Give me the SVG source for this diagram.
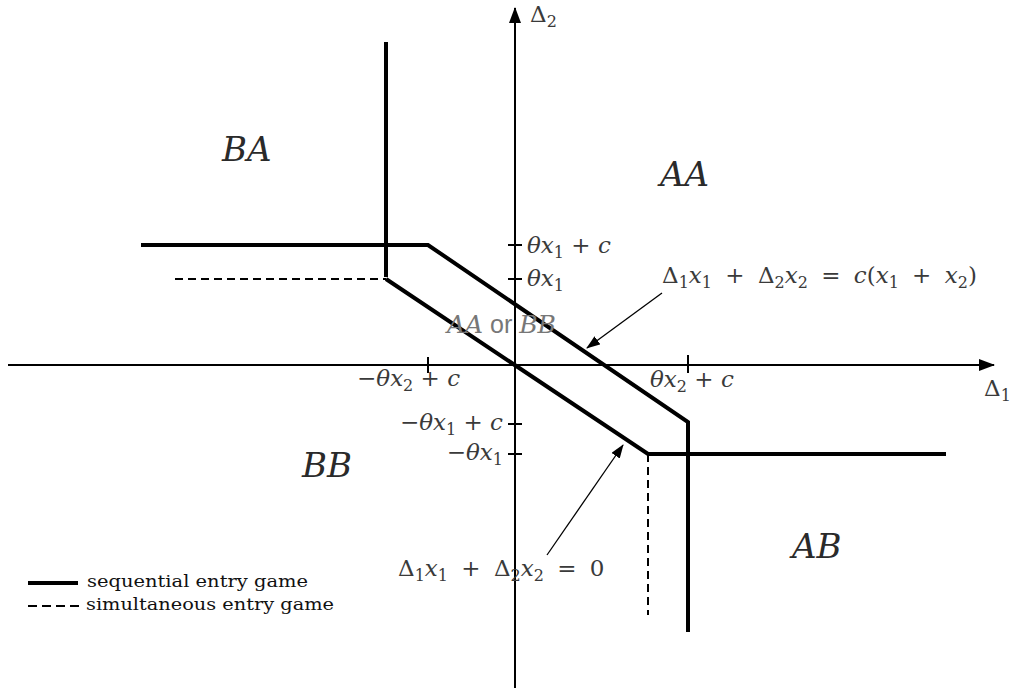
<svg xmlns="http://www.w3.org/2000/svg" width="1021" height="692" viewBox="0 0 1021 692">
<defs>
<marker id="ah" markerWidth="14" markerHeight="10" refX="13" refY="5" orient="auto" markerUnits="userSpaceOnUse">
<path d="M0,0 L14,5 L0,10 z" fill="#000"/>
</marker>
<marker id="axh" markerWidth="16" markerHeight="12" refX="15" refY="6" orient="auto" markerUnits="userSpaceOnUse">
<path d="M0,0 L16,6 L0,12 z" fill="#000"/>
</marker>
<style>
.axis{stroke:#000;stroke-width:2;fill:none}
.thick{stroke:#000;stroke-width:4;fill:none;stroke-linejoin:miter}
.dash{stroke:#000;stroke-width:2;fill:none;stroke-dasharray:8 5}
.tick{stroke:#000;stroke-width:2}
.ptr{stroke:#000;stroke-width:1.3;fill:none}
.m{font-family:"DejaVu Serif","Liberation Serif",serif;font-size:23px;fill:#3a3a3a}
.eq{word-spacing:6px}
.i{font-style:italic}
.s{font-size:16px}
.reg{font-family:"DejaVu Serif","Liberation Serif",serif;font-style:italic;font-size:34px;fill:#2a2a2a}
.leg{font-family:"DejaVu Serif","Liberation Serif",serif;font-size:17px;fill:#111}
</style>
</defs>
<rect width="1021" height="692" fill="#fff"/>
<g id="axes">
<line class="axis" x1="8" y1="365" x2="994" y2="365" marker-end="url(#axh)"/>
<line class="axis" x1="515" y1="688" x2="515" y2="8" marker-end="url(#axh)"/>
<line class="tick" x1="508" y1="245" x2="522" y2="245"/>
<line class="tick" x1="508" y1="279" x2="522" y2="279"/>
<line class="tick" x1="508" y1="424" x2="522" y2="424"/>
<line class="tick" x1="508" y1="454" x2="522" y2="454"/>
<line class="tick" x1="428" y1="357" x2="428" y2="373"/>
<line class="tick" x1="688" y1="355" x2="688" y2="373"/>
</g>
<g id="connectors">
<polyline class="thick" points="141,245 428,245 688,422 688,632"/>
<line class="thick" x1="386" y1="42" x2="386" y2="277"/>
<polyline class="thick" points="386,279 648,454 946,454"/>
<line class="dash" x1="175" y1="279" x2="386" y2="279"/>
<line class="dash" x1="648" y1="454" x2="648" y2="615"/>
<line class="ptr" x1="662" y1="293" x2="587" y2="348" marker-end="url(#ah)"/>
<line class="ptr" x1="547" y1="555" x2="623" y2="445" marker-end="url(#ah)"/>
</g>
<g id="axis-labels">
<text class="m" x="530" y="22">Δ<tspan class="s" dy="5">2</tspan></text>
<text class="m" x="984" y="396">Δ<tspan class="s" dy="5">1</tspan></text>
</g>
<g id="tick-labels">
<text class="m" x="527" y="253"><tspan class="i">θx</tspan><tspan class="s" dy="5">1</tspan><tspan dy="-5"> + </tspan><tspan class="i">c</tspan></text>
<text class="m" x="527" y="286"><tspan class="i">θx</tspan><tspan class="s" dy="5">1</tspan></text>
<text class="m" x="503" y="430" text-anchor="end">−<tspan class="i">θx</tspan><tspan class="s" dy="5">1</tspan><tspan dy="-5"> + </tspan><tspan class="i">c</tspan></text>
<text class="m" x="503" y="460" text-anchor="end">−<tspan class="i">θx</tspan><tspan class="s" dy="5">1</tspan></text>
<text class="m" x="357" y="386">−<tspan class="i">θx</tspan><tspan class="s" dy="5">2</tspan><tspan dy="-5"> + </tspan><tspan class="i">c</tspan></text>
<text class="m" x="650" y="387"><tspan class="i">θx</tspan><tspan class="s" dy="5">2</tspan><tspan dy="-5"> + </tspan><tspan class="i">c</tspan></text>
</g>
<g id="equations">
<text class="m eq" x="662" y="283">Δ<tspan class="s" dy="5">1</tspan><tspan class="i" dy="-5">x</tspan><tspan class="s" dy="5">1</tspan><tspan dy="-5"> + Δ</tspan><tspan class="s" dy="5">2</tspan><tspan class="i" dy="-5">x</tspan><tspan class="s" dy="5">2</tspan><tspan dy="-5"> = </tspan><tspan class="i">c</tspan>(<tspan class="i">x</tspan><tspan class="s" dy="5">1</tspan><tspan dy="-5"> + </tspan><tspan class="i">x</tspan><tspan class="s" dy="5">2</tspan><tspan dy="-5">)</tspan></text>
<text class="m eq" x="398" y="576">Δ<tspan class="s" dy="5">1</tspan><tspan class="i" dy="-5">x</tspan><tspan class="s" dy="5">1</tspan><tspan dy="-5"> + Δ</tspan><tspan class="s" dy="5">2</tspan><tspan class="i" dy="-5">x</tspan><tspan class="s" dy="5">2</tspan><tspan dy="-5"> = 0</tspan></text>
</g>
<g id="regions">
<text class="reg" x="222" y="161">BA</text>
<text class="reg" x="660" y="186">AA</text>
<text class="reg" x="302" y="477">BB</text>
<text class="reg" x="792" y="558">AB</text>
<text x="447" y="333" font-family="'DejaVu Serif',serif" font-size="25" fill="#777"><tspan font-style="italic">AA</tspan><tspan font-family="'Liberation Sans',sans-serif"> or </tspan><tspan font-style="italic">BB</tspan></text>
</g>
<g id="legend">
<line x1="28" y1="583" x2="78" y2="583" stroke="#000" stroke-width="4"/>
<text class="leg" x="87" y="587" textLength="221" lengthAdjust="spacingAndGlyphs">sequential entry game</text>
<line x1="28" y1="606" x2="80" y2="606" stroke="#000" stroke-width="2" stroke-dasharray="9 5"/>
<text class="leg" x="86" y="610" textLength="248" lengthAdjust="spacingAndGlyphs">simultaneous entry game</text>
</g>
</svg>
